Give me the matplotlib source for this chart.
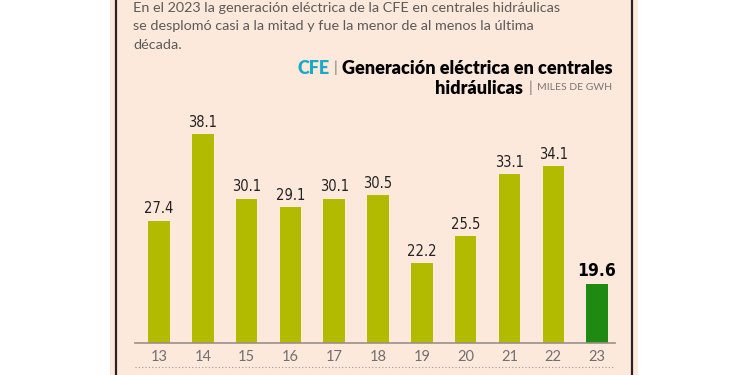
import matplotlib
matplotlib.use('Agg')
from matplotlib import pyplot as plt
from matplotlib.patches import Rectangle
from matplotlib.lines import Line2D

# Data
years = ['13', '14', '15', '16', '17', '18', '19', '20', '21', '22', '23']
values = [27.4, 38.1, 30.1, 29.1, 30.1, 30.5, 22.2, 25.5, 33.1, 34.1, 19.6]

intro = ['En el 2023 la generación eléctrica de la CFE en centrales hidráulicas',
         'se desplomó casi a la mitad y fue la menor de al menos la última',
         'década.']
source = 'CFE'
title1 = 'Generación eléctrica en centrales'
title2 = 'hidráulicas'
units = 'MILES DE GWH'

W, H = 750, 375
bg = '#fde9dc'
olive = '#b2bb00'
green = '#1f8a12'
gray = '#5a5a5a'


def fx(x):
    return x / W


def fy(y):
    # y measured in pixels from the top
    return 1 - y / H


fig = plt.figure(figsize=(7.5, 3.75), dpi=100)
fig.patch.set_facecolor('white')

# panel background and frame
fig.patches.append(Rectangle((fx(110), 0), fx(528), 1, transform=fig.transFigure,
                             facecolor=bg, edgecolor='none', zorder=-5))
for xx in (116.5, 631.5):
    fig.add_artist(Line2D([fx(xx), fx(xx)], [0, 1], transform=fig.transFigure,
                          color='#2e2222', lw=1.6))

# intro text
for i, line in enumerate(intro):
    fig.text(fx(133), fy(8 + 18.5 * i), line, fontsize=10.4, color=gray,
             family='Lato', va='center', ha='left')

# chart title, right aligned
renderer = fig.canvas.get_renderer()
t1 = fig.text(fx(612), fy(68), title1, fontsize=13, fontweight='heavy',
              family='Lato', color='black', ha='right', va='center')
bb = t1.get_window_extent(renderer)
sep1 = fig.text(bb.x0 - 4, fy(68) * H, '|', fontsize=11, color='#777777',
                family='Lato', ha='right', va='center', transform=None)
bb = sep1.get_window_extent(renderer)
fig.text(bb.x0 - 4, fy(68) * H, source, fontsize=13, fontweight='heavy',
         family='Lato', color='#1ba9c6', ha='right', va='center', transform=None)

u = fig.text(fx(612), fy(88), units, fontsize=7.5, color='#777777',
             family='Lato', ha='right', va='center')
bb = u.get_window_extent(renderer)
sep2 = fig.text(bb.x0 - 5, fy(88) * H, '|', fontsize=11, color='#777777',
                family='Lato', ha='right', va='center', transform=None)
bb = sep2.get_window_extent(renderer)
fig.text(bb.x0 - 5, fy(88) * H, title2, fontsize=13, fontweight='heavy',
         family='Lato', color='black', ha='right', va='center', transform=None)

# bar chart
ax = fig.add_axes([fx(135), 32 / H, fx(480), 243 / H])
ax.set_facecolor('none')
x = list(range(len(years)))
colors = [olive] * (len(years) - 1) + [green]
ax.bar(x, values, width=0.49, color=colors, bottom=0, zorder=2)
ax.set_xlim(-0.548, 10.41)
ax.set_ylim(12.3, 42.26)

for i, v in enumerate(values):
    last = i == len(values) - 1
    ax.annotate('%.1f' % v, (i, v), xytext=(0, 3), textcoords='offset points',
                ha='center', va='bottom',
                fontsize=12.5 if last else 10.5,
                fontweight='bold' if last else 'normal',
                fontstretch='condensed',
                family='DejaVu Sans',
                color='black' if last else '#222222')

for s in ['top', 'right', 'left']:
    ax.spines[s].set_visible(False)
ax.spines['bottom'].set_color('#9a8f88')
ax.spines['bottom'].set_linewidth(1.2)
ax.set_yticks([])
ax.set_xticks(x)
ax.set_xticklabels(years, fontsize=10.5, color='#707070', family='Lato')
ax.tick_params(axis='x', length=0, pad=5)

# dotted rule under the year labels
fig.add_artist(Line2D([fx(135), fx(615)], [fy(367), fy(367)], transform=fig.transFigure,
                      color='#999999', lw=0.8, linestyle=(0, (1, 2))))

fig.savefig('out.png', dpi=100, facecolor=fig.get_facecolor())
